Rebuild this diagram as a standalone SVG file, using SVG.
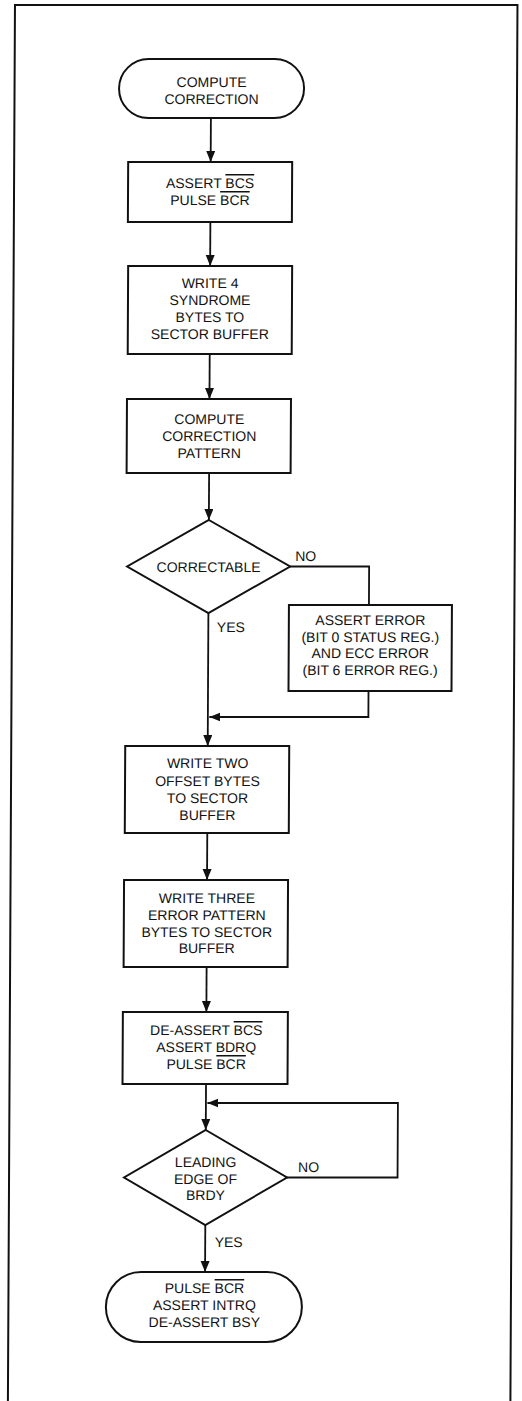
<svg xmlns="http://www.w3.org/2000/svg" width="522" height="1401" viewBox="0 0 522 1401">
<defs>
<style>
.shape{fill:#fff;stroke:#111;stroke-width:2}
.frame{fill:none;stroke:#111;stroke-width:2}
.conn{fill:none;stroke:#111;stroke-width:1.8}
text{font-family:"Liberation Sans",Arial,Helvetica,sans-serif;font-size:14px;fill:#111;text-anchor:middle}
.lbl{text-anchor:start}
.ol{text-decoration:overline}
</style>
<marker id="arr" markerUnits="userSpaceOnUse" markerWidth="12" markerHeight="10" refX="11" refY="4.5" orient="auto">
<path d="M0,0 L11,4.5 L0,9 Z" fill="#111"/>
</marker>
</defs>
<rect width="522" height="1401" fill="#fff"/>
<g transform="skewX(-0.29)">
<path class="frame" d="M15,1410 V5 H517.5 V1410"/>

<g id="connectors">
<path class="conn" d="M211.5,118 V162" marker-end="url(#arr)"/>
<path class="conn" d="M211.5,222 V266" marker-end="url(#arr)"/>
<path class="conn" d="M211.5,354 V399" marker-end="url(#arr)"/>
<path class="conn" d="M211.5,473 V520" marker-end="url(#arr)"/>
<path class="conn" d="M293,566.5 H372 V605"/>
<path class="conn" d="M211.5,613 V746" marker-end="url(#arr)"/>
<path class="conn" d="M372,691 V717 H213" marker-end="url(#arr)"/>
<path class="conn" d="M211.5,833 V880" marker-end="url(#arr)"/>
<path class="conn" d="M211.5,967 V1012" marker-end="url(#arr)"/>
<path class="conn" d="M211.5,1084 V1130" marker-end="url(#arr)"/>
<path class="conn" d="M293,1177.5 H403.5 V1103 H213" marker-end="url(#arr)"/>
<path class="conn" d="M211.5,1225 V1272" marker-end="url(#arr)"/>
<text class="lbl" x="298" y="561">NO</text>
<text class="lbl" x="220" y="632">YES</text>
<text class="lbl" x="304" y="1172">NO</text>
<text class="lbl" x="221" y="1247">YES</text>
</g>

<g id="start">
<rect class="shape" x="119.5" y="59" width="185" height="59" rx="29.5" ry="29.5"/>
<text x="212" y="87">COMPUTE</text>
<text x="212" y="104">CORRECTION</text>
</g>

<g id="box1">
<rect class="shape" x="129" y="162" width="164" height="60"/>
<text x="211" y="188">ASSERT <tspan class="ol">BCS</tspan></text>
<text x="211" y="205">PULSE <tspan class="ol">BCR</tspan></text>
</g>

<g id="box2">
<rect class="shape" x="129.5" y="266" width="164" height="88"/>
<text x="211.5" y="288">WRITE 4</text>
<text x="211.5" y="305">SYNDROME</text>
<text x="211.5" y="322">BYTES TO</text>
<text x="211.5" y="339">SECTOR BUFFER</text>
</g>

<g id="box3">
<rect class="shape" x="129" y="399" width="164" height="74"/>
<text x="211.5" y="424">COMPUTE</text>
<text x="211.5" y="441">CORRECTION</text>
<text x="211.5" y="458">PATTERN</text>
</g>

<g id="decision1">
<polygon class="shape" points="211.5,520 293,566.5 211.5,613 130,566.5"/>
<text x="211.5" y="572">CORRECTABLE</text>
</g>

<g id="errorbox">
<rect class="shape" x="292" y="605" width="163" height="86"/>
<text x="373.5" y="625">ASSERT ERROR</text>
<text x="373.5" y="642">(BIT 0 STATUS REG.)</text>
<text x="373.5" y="658">AND ECC ERROR</text>
<text x="373.5" y="675">(BIT 6 ERROR REG.)</text>
</g>

<g id="box4">
<rect class="shape" x="129" y="746" width="164" height="87"/>
<text x="211.5" y="768">WRITE TWO</text>
<text x="211.5" y="786">OFFSET BYTES</text>
<text x="211.5" y="803">TO SECTOR</text>
<text x="211.5" y="820">BUFFER</text>
</g>

<g id="box5">
<rect class="shape" x="128.5" y="880" width="164" height="87"/>
<text x="211.5" y="903">WRITE THREE</text>
<text x="211.5" y="920">ERROR PATTERN</text>
<text x="211.5" y="937">BYTES TO SECTOR</text>
<text x="211.5" y="953">BUFFER</text>
</g>

<g id="box6">
<rect class="shape" x="128" y="1012" width="165" height="72"/>
<text x="211.5" y="1035">DE-ASSERT <tspan class="ol">BCS</tspan></text>
<text x="211.5" y="1052">ASSERT BDRQ</text>
<text x="211.5" y="1069">PULSE <tspan class="ol">BCR</tspan></text>
</g>

<g id="decision2">
<polygon class="shape" points="211.5,1130 293,1177.5 211.5,1225 130,1177.5"/>
<text x="211.5" y="1167">LEADING</text>
<text x="211.5" y="1184">EDGE OF</text>
<text x="211.5" y="1200">BRDY</text>
</g>

<g id="end">
<rect class="shape" x="112.5" y="1272" width="196" height="70" rx="35" ry="35"/>
<text x="211" y="1293">PULSE <tspan class="ol">BCR</tspan></text>
<text x="211" y="1310">ASSERT INTRQ</text>
<text x="211" y="1327">DE-ASSERT BSY</text>
</g>
</g>
</svg>
